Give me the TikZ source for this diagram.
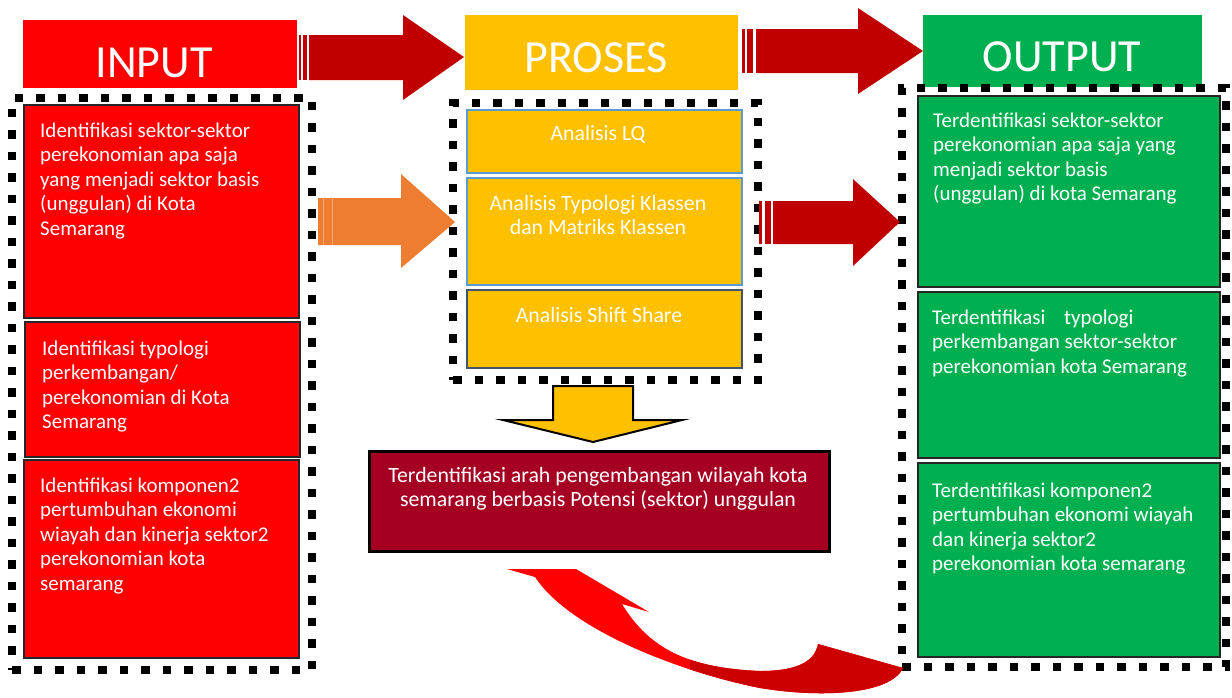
\documentclass[tikz,border=0pt]{standalone}
\usepackage{fontspec}
\setmainfont{Carlito}
\definecolor{inred}{HTML}{FF0000}
\definecolor{arrred}{HTML}{C00000}
\definecolor{proyel}{HTML}{FFC000}
\definecolor{outgreen}{HTML}{00B050}
\definecolor{maroon}{HTML}{A50021}
\definecolor{orangearr}{HTML}{ED7D31}
\definecolor{problue}{HTML}{5B9BD5}
\definecolor{slate}{HTML}{44546A}
\definecolor{curvedark}{HTML}{CC0000}
\begin{document}
\begin{tikzpicture}[x=1pt,y=-1pt]
\tikzset{
  box/.style={anchor=north west, inner sep=0pt, outer sep=0pt},
  hdr/.style={box, text=white, font=\fontsize{46}{50}\selectfont},
  hdrtext/.style={text=white, inner sep=0pt, anchor=base, font=\fontsize{46}{50}\selectfont},
  dotframe/.style={box, draw=black, line width=8.5pt, dash pattern=on 8.5pt off 13pt},
  inbox/.style={box, fill=inred, draw=black!85, line width=2.5pt},
  outbox/.style={box, fill=outgreen, draw=black!85, line width=2.5pt},
  probox/.style={box, fill=proyel, draw=problue, line width=2pt},
  btext/.style={text=white, inner sep=0pt, align=left, anchor=base west, font=\fontsize{21}{24.5}\selectfont},
  ctext/.style={text=white, inner sep=0pt, align=center, anchor=base, font=\fontsize{21.8}{24}\selectfont},
}
\useasboundingbox[fill=white] (0,0) rectangle (1232,697);

% headers
\node[hdr, fill=inred, minimum width=274pt, minimum height=68pt] (hin) at (23,20) {};
\node[hdr, fill=proyel, minimum width=273pt, minimum height=75pt] (hpr) at (465,15) {};
\node[hdr, fill=outgreen, minimum width=279pt, minimum height=72pt] (hout) at (923,15) {};
\node[hdrtext] (thin) at (154,77) {INPUT};
\node[hdrtext] (thpr) at (596,72) {PROSES};
\node[hdrtext] (thout) at (1062,71) {OUTPUT};

% top arrows
\fill[arrred] (299,35) rectangle (301,80);
\fill[arrred] (303,35) rectangle (307,80);
\fill[arrred] (309,35) -- (403,35) -- (403,15) -- (464,57) -- (403,100) -- (403,80) -- (309,80) -- cycle;
\fill[arrred] (742,29) rectangle (745,73);
\fill[arrred] (747,29) rectangle (753,73);
\fill[arrred] (756,29) -- (858,29) -- (858,8) -- (923,51) -- (858,94) -- (858,73) -- (756,73) -- cycle;

% dotted frames
\node[dotframe, minimum width=300pt, minimum height=572pt] (fin) at (12,98) {};
\node[dotframe, minimum width=305pt, minimum height=277pt] (fpr) at (453,103) {};
\node[dotframe, minimum width=324pt, minimum height=579pt] (fout) at (902,88) {};

% input boxes
\node[inbox, minimum width=275pt, minimum height=213pt] (in1) at (24,105) {};
\node[inbox, minimum width=275pt, minimum height=135pt] (in2) at (25,322) {};
\node[inbox, minimum width=275pt, minimum height=198pt] (in3) at (24,460) {};
\node[btext] (tin1) at (40,235) {Identifikasi sektor-sektor\\perekonomian apa saja\\yang menjadi sektor basis\\(unggulan) di Kota\\Semarang};
\node[btext] (tin2) at (42,428.5) {Identifikasi typologi\\perkembangan/\\perekonomian di Kota\\Semarang};
\node[btext] (tin3) at (40,590) {Identifikasi komponen2\\pertumbuhan ekonomi\\wiayah dan kinerja sektor2\\perekonomian kota\\semarang};

% process boxes
\node[probox, minimum width=275pt, minimum height=63pt] (pr1) at (467,110) {};
\node[probox, minimum width=275pt, minimum height=107pt] (pr2) at (467,178) {};
\node[probox, draw=slate, line width=2.5pt, minimum width=275pt, minimum height=78pt] (pr3) at (467,290) {};
\node[ctext] (tpr1) at (598,140) {Analisis LQ};
\node[ctext] (tpr2) at (598,234) {Analisis Typologi Klassen\\dan Matriks Klassen};
\node[ctext] (tpr3) at (599,322) {Analisis Shift Share};

% middle arrows
\fill[orangearr] (318,198) -- (401,198) -- (401,174) -- (455,222) -- (401,268) -- (401,245) -- (318,245) -- cycle;
\draw[white, opacity=0.35, line width=0.8pt] (323,198) -- (323,245) (332,198) -- (332,245);
\fill[arrred] (759,201) rectangle (762,244);
\fill[arrred] (765,201) rectangle (771,244);
\fill[arrred] (773,201) -- (853,201) -- (853,179) -- (900,222) -- (853,266) -- (853,244) -- (773,244) -- cycle;

% output boxes
\node[outbox, minimum width=302pt, minimum height=191pt] (out1) at (918,96) {};
\node[outbox, minimum width=302pt, minimum height=166pt] (out2) at (918,292) {};
\node[outbox, minimum width=302pt, minimum height=194pt] (out3) at (918,463) {};
\node[btext] (tout1) at (933,200.5) {Terdentifikasi sektor-sektor\\perekonomian apa saja yang\\menjadi sektor basis\\(unggulan) di kota Semarang};
\node[btext] (tout2) at (932,373) {Terdentifikasi\hspace{14pt} typologi\\perkembangan sektor-sektor\\perekonomian kota Semarang};
\node[btext] (tout3) at (932,570.5) {Terdentifikasi komponen2\\pertumbuhan ekonomi wiayah\\dan kinerja sektor2\\perekonomian kota semarang};

% down arrow
\filldraw[fill=proyel, draw=black, line width=2pt, line join=miter] (553,386) -- (633,386) -- (633,420) -- (682,420) -- (593,442) -- (503,420) -- (553,420) -- cycle;

% result box
\node[box, fill=maroon, draw=black, line width=3pt, minimum width=460pt, minimum height=100pt] (res) at (369,451) {};
\node[ctext] (tres) at (598,506) {Terdentifikasi arah pengembangan wilayah kota\\semarang berbasis Potensi (sektor) unggulan};

% curved feedback arrow
\def\curvepath{(507,569) -- (576,569) -- (649,612) -- (622,604)
  .. controls (650,650) and (690,668) .. (760,671)
  .. controls (800,671) and (815,660) .. (818,644)
  -- (903,668)
  .. controls (890,695) and (820,698) .. (760,688)
  .. controls (680,672) and (570,630) .. (535,577) -- cycle}
\fill[inred] \curvepath;
\begin{scope}
  \clip (690,600) rectangle (910,697);
  \fill[curvedark] \curvepath;
\end{scope}
\end{tikzpicture}
\end{document}
